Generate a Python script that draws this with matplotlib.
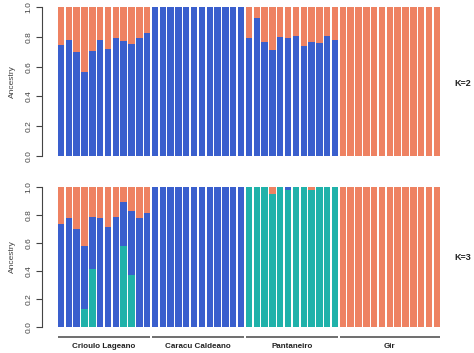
import numpy as np
import matplotlib
matplotlib.use('Agg')
from matplotlib import pyplot as plt

plt.rcParams['font.family'] = ['Liberation Sans', 'DejaVu Sans']

# grupos e numero de individuos
groups = ['Crioulo Lageano', 'Caracu Caldeano', 'Pantaneiro', 'Gir']
n_ind = [12, 12, 12, 13]

# K=2 : fracao azul por individuo (resto laranja)
k2_crioulo = [0.746, 0.778, 0.701, 0.566, 0.706, 0.782, 0.721, 0.796, 0.771, 0.753, 0.791, 0.827]
k2_caracu = [1.0] * 12
k2_pantaneiro = [0.795, 0.926, 0.766, 0.712, 0.802, 0.793, 0.807, 0.739, 0.769, 0.762, 0.809, 0.778]
k2_gir = [0.0] * 13

# K=3 : verde (base), azul (meio), laranja (topo)
k3_green = ([0, 0, 0, 0.127, 0.411, 0, 0, 0, 0.581, 0.373, 0, 0]
            + [0.0] * 12
            + [1.0, 1.0, 1.0, 0.95, 1.0, 0.98, 1.0, 1.0, 0.98, 1.0, 1.0, 1.0]
            + [0.0] * 13)
k3_blue = ([0.739, 0.778, 0.699, 0.454, 0.378, 0.778, 0.713, 0.789, 0.311, 0.460, 0.782, 0.816]
           + [1.0] * 12
           + [0, 0, 0, 0, 0, 0.02, 0, 0, 0, 0, 0, 0]
           + [0.0] * 13)

blue = '#3A5FCD'
orange = '#EE8262'
green = '#20B2AA'

k2_blue = np.array(k2_crioulo + k2_caracu + k2_pantaneiro + k2_gir)
k3_green = np.array(k3_green)
k3_blue = np.array(k3_blue)
k3_orange = 1 - k3_green - k3_blue
x = np.arange(len(k2_blue))

W, H = 474, 353
fig = plt.figure(figsize=(W / 100, H / 100), dpi=100)

# posicao dos eixos em pixels
pitch = 7.83
x0 = 61.0
ax_left, ax_right = 42, 446
xlim = ((ax_left - x0) / pitch, (ax_right - x0) / pitch)

def make_ax(top, bottom):
  ax = fig.add_axes([ax_left / W, 1 - bottom / H, (ax_right - ax_left) / W, (bottom - top) / H])
  ax.set_xlim(*xlim)
  ax.set_ylim(0, 1)
  for s in ['top', 'right', 'bottom']:
    ax.spines[s].set_visible(False)
  ax.spines['left'].set_bounds(0, 1)
  ax.spines['left'].set_color('#444444')
  ax.spines['left'].set_linewidth(0.8)
  ax.set_xticks([])
  ax.set_yticks([0, 0.2, 0.4, 0.6, 0.8, 1.0])
  ax.set_yticklabels(['0.0', '0.2', '0.4', '0.6', '0.8', '1.0'], rotation=90, va='center', fontsize=6, color='#444444')
  ax.tick_params(axis='y', length=4, width=0.8, color='#444444', pad=3)
  ax.set_ylabel('Ancestry', fontsize=6, color='#444444', labelpad=7)
  ax.patch.set_alpha(0)
  return ax

bw = 0.82

# K=2
ax1 = make_ax(7.3, 155.7)
ax1.bar(x, k2_blue, width=bw, color=blue, linewidth=0)
ax1.bar(x, 1 - k2_blue, bottom=k2_blue, width=bw, color=orange, linewidth=0)
fig.text(463 / W, (H - 83) / H, 'K=2', fontsize=6.5, fontweight='bold', ha='center', va='center', color='#222222')

# K=3
ax2 = make_ax(187.3, 326.7)
ax2.bar(x, k3_green, width=bw, color=green, linewidth=0)
ax2.bar(x, k3_blue, bottom=k3_green, width=bw, color=blue, linewidth=0)
ax2.bar(x, k3_orange, bottom=k3_green + k3_blue, width=bw, color=orange, linewidth=0)
fig.text(463 / W, (H - 258) / H, 'K=3', fontsize=6.5, fontweight='bold', ha='center', va='center', color='#222222')

# linhas e nomes dos grupos
line_y = -(337.3 - 326.7) / 139.4
label_y = -(346.7 - 326.7) / 139.4
start = 0
for name, n in zip(groups, n_ind):
  a = start - bw / 2
  b = start + n - 1 + bw / 2
  ax2.plot([a, b], [line_y, line_y], color='#555555', linewidth=1.2, clip_on=False, solid_capstyle='butt')
  ax2.text((a + b) / 2, label_y, name, fontsize=5.8, fontweight='bold', ha='center', va='center', color='#222222',
           clip_on=False)
  start += n

plt.savefig('out.png', dpi=100)
plt.close()
